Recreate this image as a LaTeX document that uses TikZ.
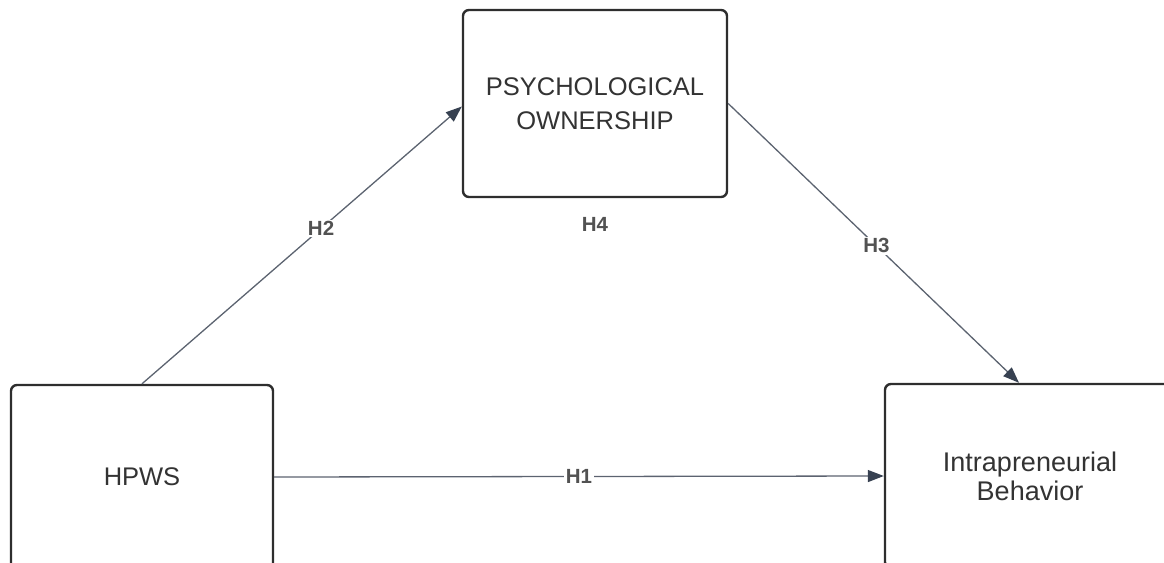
\documentclass[tikz,border=0pt]{standalone}
\usepackage{fontspec}
\setmainfont{Liberation Sans}
\usetikzlibrary{arrows.meta,positioning}

\definecolor{boxline}{HTML}{2E2E2E}
\definecolor{edgeline}{HTML}{5C6370}
\definecolor{tipfill}{HTML}{374151}
\definecolor{textgray}{HTML}{333333}

\begin{document}
\begin{tikzpicture}[x=1pt,y=-1pt,
  construct/.style={draw=boxline, line width=2.4pt, rounded corners=6pt, fill=white,
    text=textgray, font=\fontsize{25.5}{34}\selectfont, align=center, inner sep=0pt},
  link/.style={draw=edgeline, line width=1.3pt,
    -{Triangle[length=16pt,width=12pt,color=tipfill]}},
  hyp/.style={fill=white, text=textgray!85, font=\bfseries\fontsize{20.5}{21}\selectfont, inner sep=1.5pt}]

\useasboundingbox (0,0) rectangle (1164,562);
\clip (0,0) rectangle (1164,562);

% ---------- constructs ----------
\node[construct, minimum width=262pt, minimum height=184pt] (hpws) at (142,477) {HPWS};
\node[construct, minimum width=264pt, minimum height=187pt] (po) at (595,103.5) {PSYCHOLOGICAL\\OWNERSHIP};
\node[construct, minimum width=290pt, minimum height=184pt,
  font=\fontsize{27}{29}\selectfont] (ib) at (1030,476) {Intrapreneurial\\Behavior};

% ---------- hypothesised paths ----------
\draw[link] (hpws.north) -- node[hyp, pos=0.56] {H2} ([yshift=-3pt]po.west);
\draw[link] (po.east) -- node[hyp, pos=0.51] {H3} ([xshift=-11pt]ib.north);
\draw[link] (hpws.east) -- node[hyp, pos=0.5] {H1} (ib.west);

% mediation label
\node[hyp, below=17pt of po.south] (h4) {H4};

\end{tikzpicture}
\end{document}
